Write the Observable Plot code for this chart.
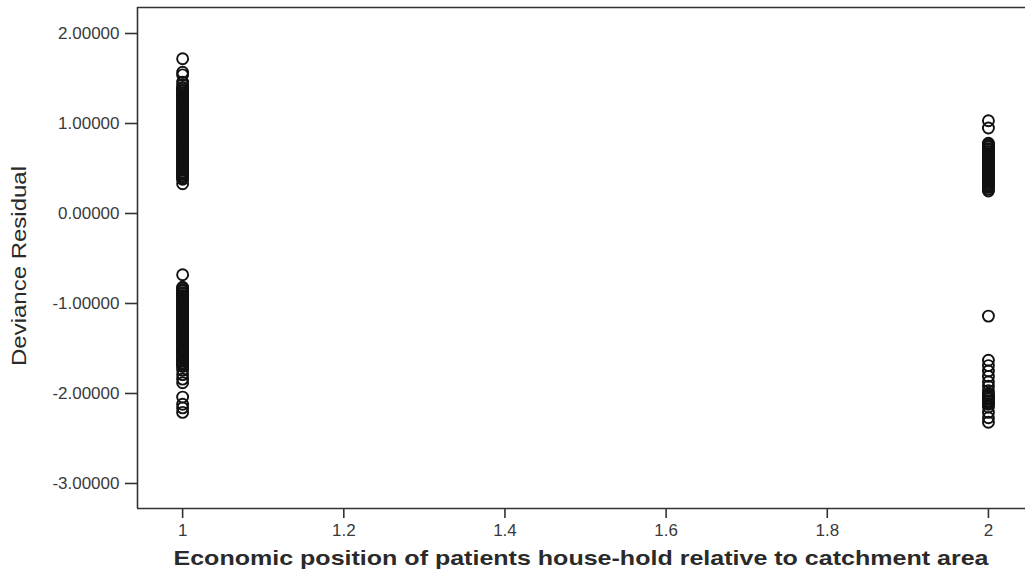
<!DOCTYPE html>
<html>
<head>
<meta charset="utf-8">
<script src="https://cdn.jsdelivr.net/npm/d3@7"></script>
<script src="https://cdn.jsdelivr.net/npm/@observablehq/plot@0.6"></script>
<style>
  html, body { margin: 0; padding: 0; background: #fff; overflow: hidden; }
  #chart svg { display: block; }
</style>
</head>
<body>
<div id="chart"></div>
<script>
// Economic position category (x) and deviance residuals (y)
const category1Upper = [1.72, 1.57, 1.54, 1.46, 1.43,
  1.40, 1.39, 1.37, 1.36, 1.34, 1.33, 1.31, 1.30, 1.29, 1.27, 1.26, 1.24, 1.23, 1.21, 1.20, 1.19, 1.17, 1.16, 1.14, 1.13, 1.11, 1.10, 1.08, 1.07, 1.06, 1.04, 1.03, 1.01, 1.00, 0.98, 0.97, 0.96, 0.94, 0.93, 0.91, 0.90, 0.88, 0.87, 0.85, 0.84, 0.83, 0.81, 0.80, 0.78, 0.77, 0.75, 0.74, 0.72, 0.71, 0.70, 0.68, 0.67, 0.65, 0.64, 0.62, 0.61, 0.59, 0.58, 0.57, 0.55, 0.54, 0.52, 0.51, 0.49, 0.48, 0.46, 0.45, 0.44, 0.42, 0.41, 0.39, 0.38,
  0.33];
const category1Lower = [-0.68,
  -0.82, -0.83, -0.85, -0.86, -0.88, -0.89, -0.91, -0.92, -0.93, -0.95, -0.96, -0.98, -0.99, -1.01, -1.02, -1.04, -1.05, -1.06, -1.08, -1.09, -1.11, -1.12, -1.14, -1.15, -1.16, -1.18, -1.19, -1.21, -1.22, -1.24, -1.25, -1.27, -1.28, -1.29, -1.31, -1.32, -1.34, -1.35, -1.37, -1.38, -1.40, -1.41, -1.42, -1.44, -1.45, -1.47, -1.48, -1.50, -1.51, -1.53, -1.54, -1.55, -1.57, -1.58, -1.60, -1.61, -1.63, -1.64, -1.66, -1.67, -1.69, -1.70,
  -1.74, -1.79, -1.84, -1.88, -2.04, -2.12, -2.16, -2.21];
const category2Upper = [1.03, 0.95,
  0.78, 0.77, 0.75, 0.74, 0.72, 0.71, 0.69, 0.68, 0.66, 0.65, 0.64, 0.62, 0.61, 0.59, 0.58, 0.56, 0.55, 0.53, 0.52, 0.51, 0.49, 0.48, 0.46, 0.45, 0.43, 0.42, 0.40, 0.39, 0.38, 0.36, 0.35, 0.33, 0.32, 0.30, 0.29, 0.27, 0.25];
const category2Lower = [-1.14, -1.63, -1.69, -1.75, -1.81, -1.87, -1.92, -1.97, -2.00, -2.02, -2.03, -2.05, -2.06, -2.08, -2.09, -2.11, -2.12, -2.15, -2.21, -2.27, -2.32];

const xTicks = [1, 1.2, 1.4, 1.6, 1.8, 2];
const xTickLabels = ["1", "1.2", "1.4", "1.6", "1.8", "2"];
const yTicks = [2, 1, 0, -1, -2, -3];
const yTickLabels = ["2.00000", "1.00000", "0.00000", "-1.00000", "-2.00000", "-3.00000"];

const xTitle = "Economic position of patients house-hold relative to catchment area";
const yTitle = "Deviance Residual";

const points = [
  ...category1Upper.map(v => ({x: 1, y: v})),
  ...category1Lower.map(v => ({x: 1, y: v})),
  ...category2Upper.map(v => ({x: 2, y: v})),
  ...category2Lower.map(v => ({x: 2, y: v}))
];

const xDomain = [0.944, 2.046];
const yDomain = [-3.278, 2.289];
const font = "'Liberation Sans', Arial, sans-serif";

const chart = Plot.plot({
  width: 1025,
  height: 580,
  marginLeft: 137,
  marginRight: 0,
  marginTop: 7,
  marginBottom: 72,
  style: {fontFamily: font, background: "#fff"},
  x: {domain: xDomain, label: null},
  y: {domain: yDomain, label: null},
  marks: [
    Plot.axisX({ticks: xTicks, tickFormat: (d, i) => xTickLabels[i], tickSize: 10, tickPadding: 5, fontSize: 17, stroke: "#333", color: "#3a3a3a", strokeWidth: 1.6}),
    Plot.axisY({ticks: yTicks, tickFormat: (d, i) => yTickLabels[i], tickSize: 12, tickPadding: 6, fontSize: 17, stroke: "#333", color: "#3a3a3a", strokeWidth: 1.6}),
    Plot.ruleX([xDomain[0]], {stroke: "#333", strokeWidth: 1.6}),
    Plot.ruleY([yDomain[0]], {stroke: "#333", strokeWidth: 1.6}),
    Plot.ruleY([yDomain[1]], {stroke: "#333", strokeWidth: 1.6}),
    Plot.dot(points, {x: "x", y: "y", r: 5.5, stroke: "#111", strokeWidth: 1.9, fill: "none"})
  ]
});

const svg = d3.select(chart);
svg.append("text")
  .attr("x", 581)
  .attr("y", 565)
  .attr("text-anchor", "middle")
  .attr("font-family", font)
  .attr("font-size", 21)
  .attr("font-weight", "bold")
  .attr("fill", "#2a2a2a")
  .attr("textLength", 815)
  .attr("lengthAdjust", "spacingAndGlyphs")
  .text(xTitle);
svg.append("text")
  .attr("transform", "translate(26,266) rotate(-90)")
  .attr("text-anchor", "middle")
  .attr("font-family", font)
  .attr("font-size", 20)
  .attr("fill", "#2a2a2a")
  .attr("textLength", 200)
  .attr("lengthAdjust", "spacingAndGlyphs")
  .text(yTitle);

document.getElementById("chart").appendChild(chart);
</script>
</body>
</html>
